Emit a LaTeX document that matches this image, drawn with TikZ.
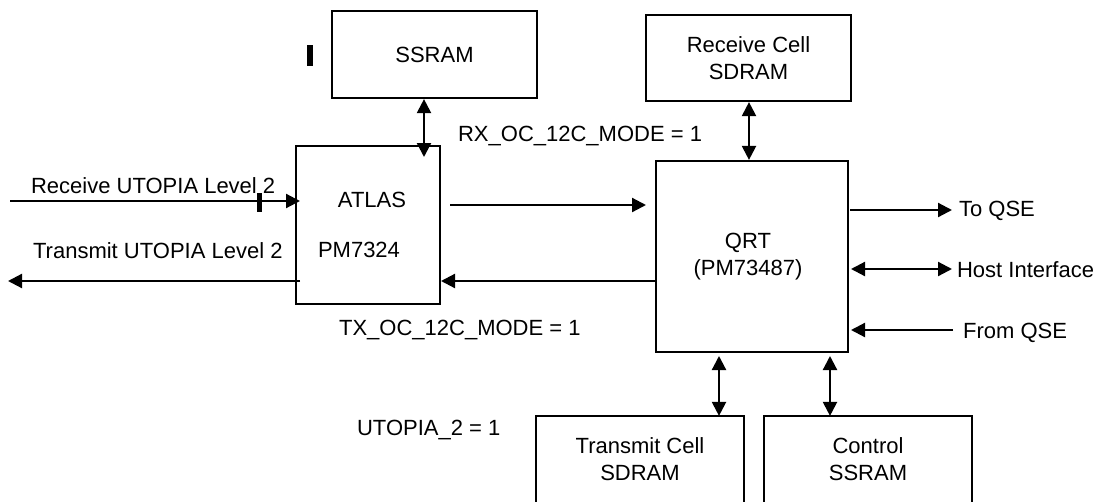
\documentclass[tikz,border=0pt]{standalone}
\usepackage{fontspec}
\setmainfont{Liberation Sans}
\usetikzlibrary{arrows.meta}
\newcommand\diafont{\fontsize{22}{27}\selectfont}
\begin{document}
\begin{tikzpicture}[x=1pt,y=-1pt,line width=2.2pt,
  >={Triangle[length=14pt,width=14pt]},
  box/.style={draw,line width=2.2pt,inner sep=0pt,align=center,font=\diafont},
  openbox/.style={inner sep=0pt,align=center,font=\diafont},
  lbl/.style={inner sep=0pt,anchor=base west,font=\diafont},
  ctr/.style={inner sep=0pt,anchor=base,font=\diafont}]
\useasboundingbox (0,0) rectangle (1095,501);
\fill[white] (0,0) rectangle (1095,501);

% boxes
\node[box,minimum width=205pt,minimum height=87pt] (ssram) at (434.5,54.5) {SSRAM};
\node[box,minimum width=205pt,minimum height=86pt] (rcell) at (748.5,58) {Receive Cell\\SDRAM};
\node[box,minimum width=144pt,minimum height=158pt] (atlas) at (368,225) {};
\node[box,minimum width=192pt,minimum height=191pt] (qrt) at (752,256.5) {};
\node[openbox,minimum width=206pt,minimum height=84pt] (tcell) at (640,459) {Transmit Cell\\SDRAM};
\node[openbox,minimum width=206pt,minimum height=84pt] (ctrl) at (868,459) {Control\\SSRAM};
\draw (tcell.south west) |- (tcell.north east) -- (tcell.south east);
\draw (ctrl.south west) |- (ctrl.north east) -- (ctrl.south east);

% box texts
\node[ctr] (atlasT) at (372,207) {ATLAS};
\node[ctr] (atlasP) at (359,257) {PM7324};
\node[inner sep=0pt,align=center,font=\diafont] (qrtT) at (748,257) {QRT\\(PM73487)};

% small marks
\fill (307,45) rectangle (313,66);
\fill (257,193) rectangle (262,212);

% vertical connectors
\coordinate (a1) at (424,157);
\draw[<->] (a1 |- ssram.south) -- (a1);
\coordinate (r1) at (749,101);
\draw[<->] (r1 |- rcell.south) -- (r1 |- qrt.north);
\coordinate (t1) at (719,356);
\draw[<->] (t1) -- (t1 |- tcell.north);
\coordinate (c1) at (830,356);
\draw[<->] (c1) -- (c1 |- ctrl.north);

% horizontal connectors
\coordinate (rin) at (10,201);
\coordinate (rtip) at (300,201);
\draw[->] (rin) -- (rtip);
\coordinate (tsrc) at (300,281);
\coordinate (tout) at (8,281);
\draw[->] (tsrc) -- (tout);
\coordinate (aq1) at (450,205);
\coordinate (aq2) at (646,205);
\draw[->] (aq1) -- (aq2);
\coordinate (qa) at (441,281);
\draw[->] (qrt.west |- qa) -- (qa);
\coordinate (toq1) at (850,210);
\coordinate (toq2) at (952,210);
\draw[->] (toq1) -- (toq2);
\coordinate (h1) at (851,269);
\coordinate (h2) at (952,269);
\draw[<->] (h1) -- (h2);
\coordinate (f1) at (953,330);
\coordinate (f2) at (851,330);
\draw[->] (f1) -- (f2);

% labels
\node[lbl] (lrx) at (30,193) {Receive UTOPIA Level 2};
\node[lbl] (ltx) at (32,258) {Transmit UTOPIA Level 2};
\node[lbl] (lrxm) at (457,141) {RX\_OC\_12C\_MODE = 1};
\node[lbl] (ltxm) at (338,335) {TX\_OC\_12C\_MODE = 1};
\node[lbl] (lut) at (356,435) {UTOPIA\_2 = 1};
\node[lbl] (ltoq) at (958,216) {To QSE};
\node[lbl] (lhost) at (956,277) {Host Interface};
\node[lbl] (lfrom) at (962,338) {From QSE};
\end{tikzpicture}
\end{document}
